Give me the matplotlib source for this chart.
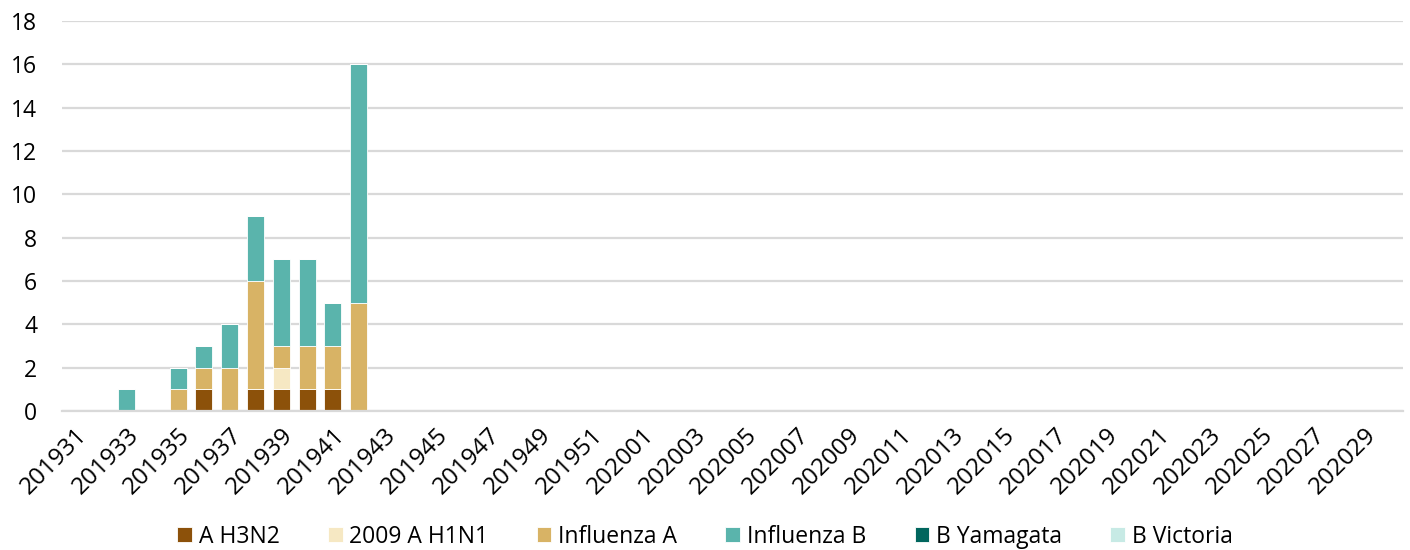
import matplotlib.pyplot as plt
import numpy as np

plt.rcParams['font.family'] = ['Open Sans', 'DejaVu Sans']

weeks = [str(201900 + w) for w in range(31, 53)] + [str(202000 + w) for w in range(1, 31)]
n = len(weeks)

# values for the weeks that have cases (rest are zero)
h3n2 = dict(zip(['201936', '201938', '201939', '201940', '201941'], [1, 1, 1, 1, 1]))
h1n1 = dict(zip(['201939'], [1]))
inf_a = dict(zip(['201935', '201936', '201937', '201938', '201939', '201940', '201941', '201942'],
                 [1, 1, 2, 5, 1, 2, 2, 5]))
inf_b = dict(zip(['201933', '201935', '201936', '201937', '201938', '201939', '201940', '201941', '201942'],
                 [1, 1, 1, 2, 3, 4, 4, 2, 11]))
yamagata = {}
victoria = {}

series = [
    ('A H3N2', h3n2, '#8C510A'),
    ('2009 A H1N1', h1n1, '#F6E8C3'),
    ('Influenza A', inf_a, '#D8B365'),
    ('Influenza B', inf_b, '#5AB4AC'),
    ('B Yamagata', yamagata, '#01665E'),
    ('B Victoria', victoria, '#C7EAE5'),
]

fig, ax = plt.subplots(figsize=(14.1, 5.5), dpi=100)
fig.subplots_adjust(left=0.044, right=0.995, top=0.962, bottom=0.253)

x = np.arange(n)
bottom = np.zeros(n)
for name, d, color in series:
    vals = np.array([d.get(w, 0) for w in weeks], dtype=float)
    ax.bar(x, vals, 0.66, bottom=bottom, color=color, label=name,
           edgecolor='white', linewidth=0.6)
    bottom += vals

ax.set_xlim(-0.5, n - 0.5)
ax.set_ylim(0, 18)
ax.set_yticks(range(0, 19, 2))
ax.set_xticks(x[::2])
ax.set_xticklabels(weeks[::2], rotation=45, ha='right', rotation_mode='anchor')
ax.tick_params(axis='both', length=0, colors='black')
ax.tick_params(axis='x', pad=9, labelsize=17.5)
ax.tick_params(axis='y', pad=18, labelsize=16.5)
ax.grid(axis='y', color='#D9D9D9', linewidth=1.6)
ax.set_axisbelow(True)
for s in ['top', 'right', 'left']:
    ax.spines[s].set_visible(False)
ax.spines['bottom'].set_color('#D9D9D9')
ax.spines['bottom'].set_linewidth(1.6)

fig.legend(loc='center', bbox_to_anchor=(0.5, 0.024), ncol=6, frameon=False,
           fontsize=16.5, handlelength=0.65, handleheight=0.65, handletextpad=0.3,
           columnspacing=2.1, borderaxespad=0)

plt.savefig('out.png', dpi=100)
